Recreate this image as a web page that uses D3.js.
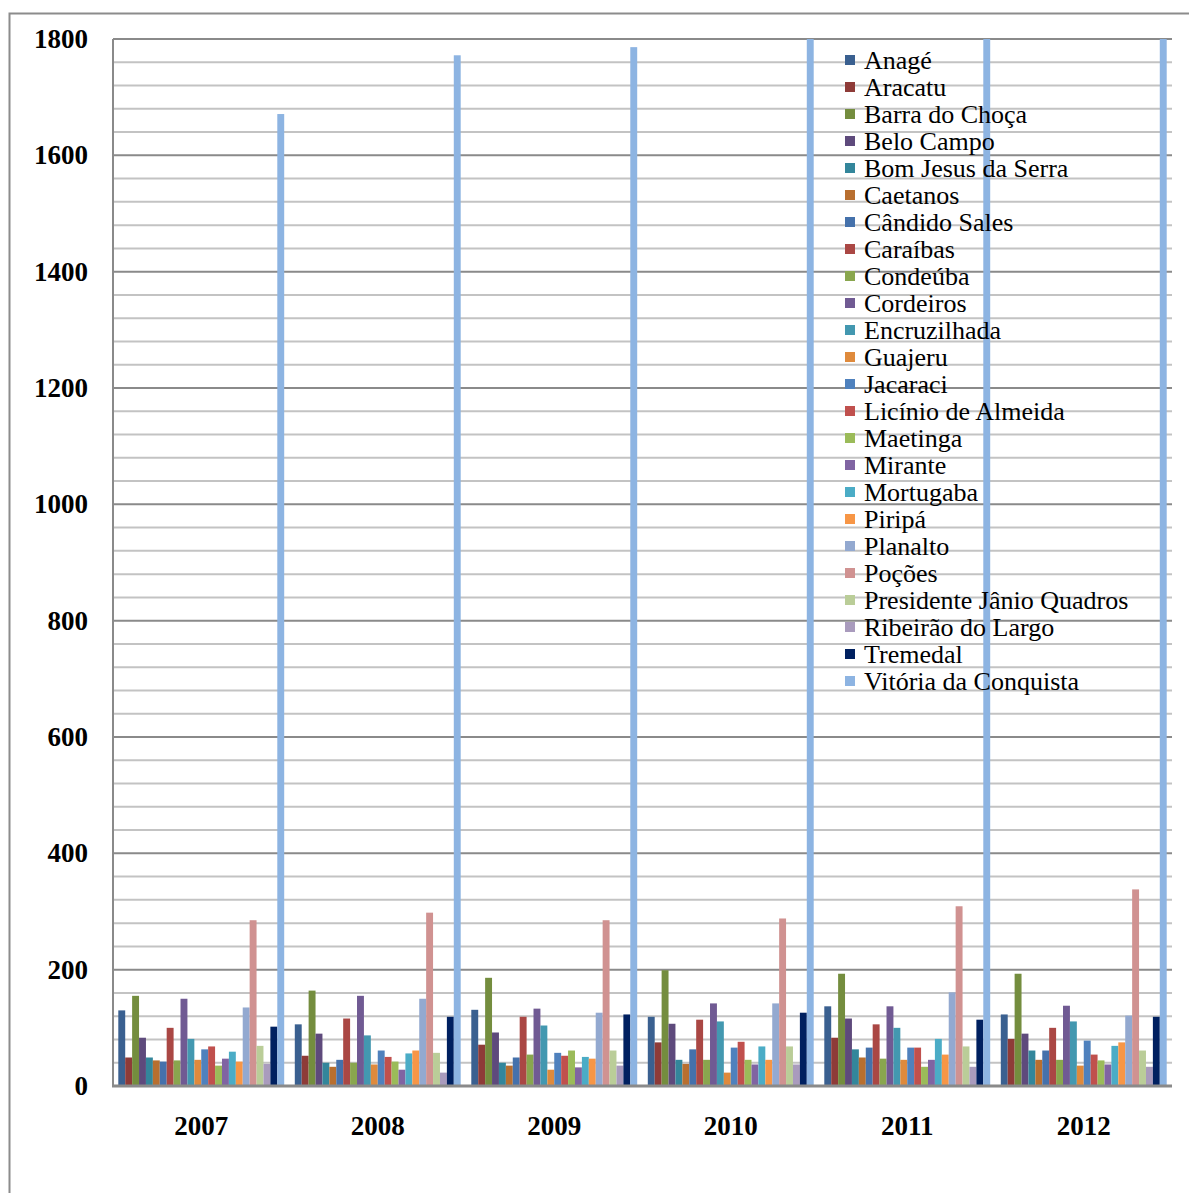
<!DOCTYPE html>
<html>
<head>
<meta charset="utf-8">
<script src="https://cdn.jsdelivr.net/npm/d3@7"></script>
<style>
  html, body { margin: 0; padding: 0; background: #fff; }
  svg { display: block; }
</style>
</head>
<body>
<svg id="chart" width="1189" height="1193"></svg>
<script>
// Years on the category axis
const years = ["2007", "2008", "2009", "2010", "2011", "2012"];

// Municipalities (one series each)
const municipios = [
  "Anagé", "Aracatu", "Barra do Choça", "Belo Campo", "Bom Jesus da Serra",
  "Caetanos", "Cândido Sales", "Caraíbas", "Condeúba", "Cordeiros",
  "Encruzilhada", "Guajeru", "Jacaraci", "Licínio de Almeida", "Maetinga",
  "Mirante", "Mortugaba", "Piripá", "Planalto", "Poções",
  "Presidente Jânio Quadros", "Ribeirão do Largo", "Tremedal", "Vitória da Conquista"
];

// Values per municipality, ordered 2007 … 2012
const anage        = [130, 106, 131, 119, 137, 123];
const aracatu      = [49, 52, 71, 75, 83, 81];
const barraChoca   = [155, 164, 186, 199, 193, 193];
const beloCampo    = [83, 90, 92, 107, 116, 90];
const bomJesus     = [49, 40, 40, 45, 63, 61];
const caetanos     = [44, 33, 35, 38, 49, 45];
const candidoSales = [42, 45, 49, 63, 66, 61];
const caraibas     = [100, 116, 119, 114, 106, 100];
const condeuba     = [44, 40, 54, 45, 47, 45];
const cordeiros    = [150, 155, 133, 142, 137, 138];
const encruzilhada = [81, 87, 104, 111, 100, 111];
const guajeru      = [45, 37, 28, 23, 45, 35];
const jacaraci     = [63, 61, 57, 66, 66, 78];
const licinio      = [68, 50, 52, 76, 66, 54];
const maetinga     = [35, 42, 61, 45, 33, 44];
const mirante      = [47, 28, 32, 37, 45, 37];
const mortugaba    = [59, 56, 50, 68, 81, 69];
const piripa       = [42, 61, 47, 45, 54, 75];
const planalto     = [135, 150, 126, 142, 161, 121];
const pocoes       = [285, 298, 285, 288, 309, 338];
const presJanio    = [69, 57, 61, 68, 68, 61];
const ribeirao     = [38, 23, 35, 37, 33, 33];
const tremedal     = [102, 119, 123, 126, 114, 119];
const vitoria      = [1671, 1772, 1786, 1830, 1860, 1890];

// Y axis ticks
const yTicks = [0, 200, 400, 600, 800, 1000, 1200, 1400, 1600, 1800];

const seriesValues = [
  anage, aracatu, barraChoca, beloCampo, bomJesus, caetanos, candidoSales,
  caraibas, condeuba, cordeiros, encruzilhada, guajeru, jacaraci, licinio,
  maetinga, mirante, mortugaba, piripa, planalto, pocoes, presJanio,
  ribeirao, tremedal, vitoria
];

const colors = [
  "#3A6090", "#8E3B38", "#748D3E", "#5E4A7C", "#33869B", "#B86F2F",
  "#4571AB", "#AA4744", "#89A64E", "#705A93", "#4398B0", "#DF8A3C",
  "#4F81BD", "#C0504D", "#9BBB59", "#8064A2", "#4BACC6", "#F79646",
  "#93A9D0", "#D09291", "#BACD98", "#A99BBD", "#002060", "#8DB4E2"
];

const serif = "'Liberation Serif', 'Times New Roman', serif";
const svg = d3.select("#chart");

const plot = { left: 113, right: 1172, top: 39, bottom: 1086 };

// Outer chart frame
svg.append("rect")
  .attr("x", 9.5).attr("y", 13.5)
  .attr("width", 1400).attr("height", 1400)
  .attr("fill", "none").attr("stroke", "#8c8c8c").attr("stroke-width", 2);

const y = d3.scaleLinear().domain([0, 1800]).range([plot.bottom, plot.top]);
const x0 = d3.scaleBand().domain(years).range([plot.left, plot.right])
  .paddingInner(0.06).paddingOuter(0.03);
const x1 = d3.scaleBand().domain(d3.range(municipios.length))
  .range([0, x0.bandwidth()]);

// Gridlines: minor every 40, major every 200
const minor = d3.range(40, 1800, 40).filter(v => v % 200 !== 0);
svg.append("g").selectAll("line").data(minor).join("line")
  .attr("x1", plot.left).attr("x2", plot.right)
  .attr("y1", d => y(d)).attr("y2", d => y(d))
  .attr("stroke", "#c3c3c3").attr("stroke-width", 2);
svg.append("g").selectAll("line").data(yTicks.filter(v => v > 0)).join("line")
  .attr("x1", plot.left).attr("x2", plot.right)
  .attr("y1", d => y(d)).attr("y2", d => y(d))
  .attr("stroke", "#8a8a8a").attr("stroke-width", 2);

// Bars, clipped to the plot area
svg.append("clipPath").attr("id", "plotClip")
  .append("rect")
  .attr("x", plot.left).attr("y", plot.top)
  .attr("width", plot.right - plot.left).attr("height", plot.bottom - plot.top);

const barData = [];
seriesValues.forEach((vals, si) => {
  vals.forEach((v, yi) => barData.push({ si, year: years[yi], v }));
});

svg.append("g").attr("clip-path", "url(#plotClip)")
  .selectAll("rect").data(barData).join("rect")
  .attr("x", d => x0(d.year) + x1(d.si))
  .attr("y", d => y(d.v))
  .attr("width", x1.bandwidth())
  .attr("height", d => y(0) - y(d.v))
  .attr("fill", d => colors[d.si]);

// Axis lines
svg.append("line")
  .attr("x1", plot.left).attr("x2", plot.left)
  .attr("y1", plot.top).attr("y2", plot.bottom)
  .attr("stroke", "#8a8a8a").attr("stroke-width", 2);
svg.append("line")
  .attr("x1", plot.left - 1).attr("x2", plot.right)
  .attr("y1", plot.bottom).attr("y2", plot.bottom)
  .attr("stroke", "#8a8a8a").attr("stroke-width", 3);

// Y tick labels
const yAxis = d3.axisLeft(y).tickValues(yTicks).tickFormat(d3.format("d"))
  .tickSize(0).tickPadding(25);
const gy = svg.append("g").attr("transform", `translate(${plot.left},0)`).call(yAxis);
gy.select(".domain").remove();
gy.selectAll("text")
  .attr("font-family", serif)
  .attr("font-size", 27).attr("font-weight", "bold").attr("fill", "#000");

// X category labels
const xAxis = d3.axisBottom(x0).tickSize(0).tickPadding(30);
const gx = svg.append("g").attr("transform", `translate(0,${plot.bottom})`).call(xAxis);
gx.select(".domain").remove();
gx.selectAll("text")
  .attr("font-family", serif)
  .attr("font-size", 27).attr("font-weight", "bold").attr("fill", "#000");

// Legend
const legend = svg.append("g").attr("transform", "translate(845,60)");
const item = legend.selectAll("g").data(municipios).join("g")
  .attr("transform", (d, i) => `translate(0,${i * 27})`);
item.append("rect")
  .attr("x", 0).attr("y", -5).attr("width", 10).attr("height", 10)
  .attr("fill", (d, i) => colors[i]);
item.append("text")
  .attr("x", 19).attr("y", 0).attr("dy", "0.35em")
  .attr("font-family", serif)
  .attr("font-size", 26).attr("fill", "#000")
  .text(d => d);
</script>
</body>
</html>
